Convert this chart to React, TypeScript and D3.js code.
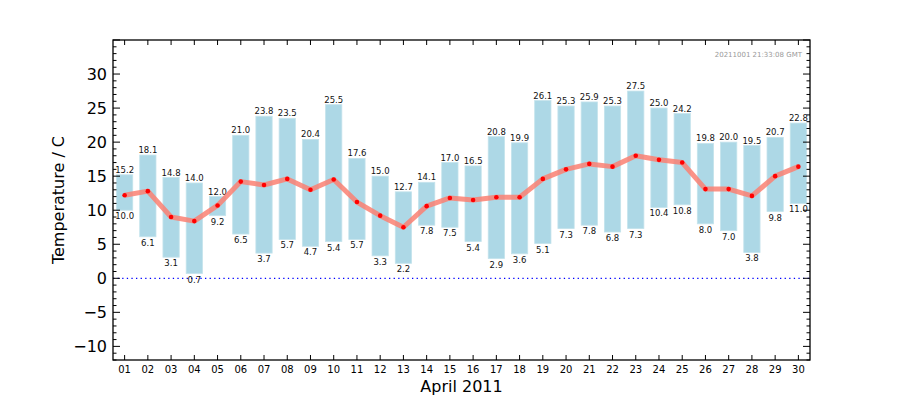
import React from "react";
import * as d3 from "d3";

const days = ["01","02","03","04","05","06","07","08","09","10","11","12","13","14","15","16","17","18","19","20","21","22","23","24","25","26","27","28","29","30"];
const maxTemps = [15.2,18.1,14.8,14.0,12.0,21.0,23.8,23.5,20.4,25.5,17.6,15.0,12.7,14.1,17.0,16.5,20.8,19.9,26.1,25.3,25.9,25.3,27.5,25.0,24.2,19.8,20.0,19.5,20.7,22.8];
const minTemps = [10.0,6.1,3.1,0.7,9.2,6.5,3.7,5.7,4.7,5.4,5.7,3.3,2.2,7.8,7.5,5.4,2.9,3.6,5.1,7.3,7.8,6.8,7.3,10.4,10.8,8.0,7.0,3.8,9.8,11.0];
const meanTemps = [12.2,12.8,9.0,8.4,10.7,14.2,13.7,14.6,13.0,14.5,11.2,9.2,7.5,10.6,11.8,11.5,11.9,11.9,14.6,16.0,16.8,16.4,18.0,17.4,17.0,13.1,13.1,12.1,15.0,16.4];
const yTicks = [-10,-5,0,5,10,15,20,25,30];
const yMinorTicks = d3.range(-12, 36, 1);
const timestamp = "20211001 21:33:08 GMT";

export default function App() {
  const W = 900, H = 400;
  const L = 113, R = 810, T = 40, B = 360;
  const x = d3.scaleLinear().domain([0.5, 30.5]).range([L, R]);
  const y = d3.scaleLinear().domain([-12, 35]).range([B, T]);
  const bw = (x(1) - x(0)) * 0.7;
  const font = "DejaVu Sans, sans-serif";
  const line = d3.line<number>().x((_, i) => x(i + 1)).y((d) => y(d));

  return (
    <svg width={W} height={H} style={{ position: "absolute", left: 0, top: 0, background: "#fff" }} fontFamily={font}>
      <rect x={0} y={0} width={W} height={H} fill="#fff" />
      {days.map((d, i) => (
        <rect key={"b" + d} x={x(i + 1) - bw / 2} y={y(maxTemps[i])} width={bw} height={y(minTemps[i]) - y(maxTemps[i])}
          fill="#add8e6" stroke="#c4e3ec" strokeWidth={0.8} />
      ))}
      <line x1={L} x2={R} y1={y(0)} y2={y(0)} stroke="#0000ff" strokeWidth={1.3} strokeDasharray="1.3,3.3" />
      {days.map((d, i) => (
        <g key={"l" + d} fontSize={8.5} fill="#111" textAnchor="middle">
          <text x={x(i + 1)} y={y(maxTemps[i]) - 2}>{maxTemps[i].toFixed(1)}</text>
          <text x={x(i + 1)} y={y(minTemps[i]) + 9}>{minTemps[i].toFixed(1)}</text>
        </g>
      ))}
      <path d={line(meanTemps) || ""} fill="none" stroke="#fa8072" strokeOpacity={0.85} strokeWidth={5} strokeLinejoin="round" />
      {meanTemps.map((v, i) => (
        <circle key={"c" + i} cx={x(i + 1)} cy={y(v)} r={2.3} fill="#ff0000" />
      ))}
      {days.map((d, i) => (
        <g key={"t" + d} stroke="#000" strokeWidth={1}>
          <line x1={x(i + 1)} x2={x(i + 1)} y1={B} y2={B - 5} />
          <line x1={x(i + 1)} x2={x(i + 1)} y1={T} y2={T + 5} />
        </g>
      ))}
      {yMinorTicks.map((v) => {
        const maj = v % 5 === 0;
        const len = maj ? 7 : 3.5;
        return (
          <g key={"y" + v} stroke="#000" strokeWidth={1}>
            <line x1={L} x2={L + len} y1={y(v)} y2={y(v)} />
            <line x1={R} x2={R - len} y1={y(v)} y2={y(v)} />
          </g>
        );
      })}
      <rect x={L} y={T} width={R - L} height={B - T} fill="none" stroke="#000" strokeWidth={1.3} />
      {days.map((d, i) => (
        <text key={"xt" + d} x={x(i + 1)} y={B + 13} fontSize={10} textAnchor="middle" fill="#000">{d}</text>
      ))}
      {yTicks.map((v) => (
        <text key={"yt" + v} x={L - 6} y={y(v) + 5.5} fontSize={16} textAnchor="end" fill="#000">{v < 0 ? "\u2212" + Math.abs(v) : v}</text>
      ))}
      <text x={(L + R) / 2} y={392} fontSize={16} textAnchor="middle" fill="#000">April 2011</text>
      <text transform={`translate(64,${(T + B) / 2}) rotate(-90)`} fontSize={16} textAnchor="middle" fill="#000">Temperature / C</text>
      <text x={R - 8} y={T + 16.5} fontSize={7} textAnchor="end" fill="#999">{timestamp}</text>
    </svg>
  );
}
